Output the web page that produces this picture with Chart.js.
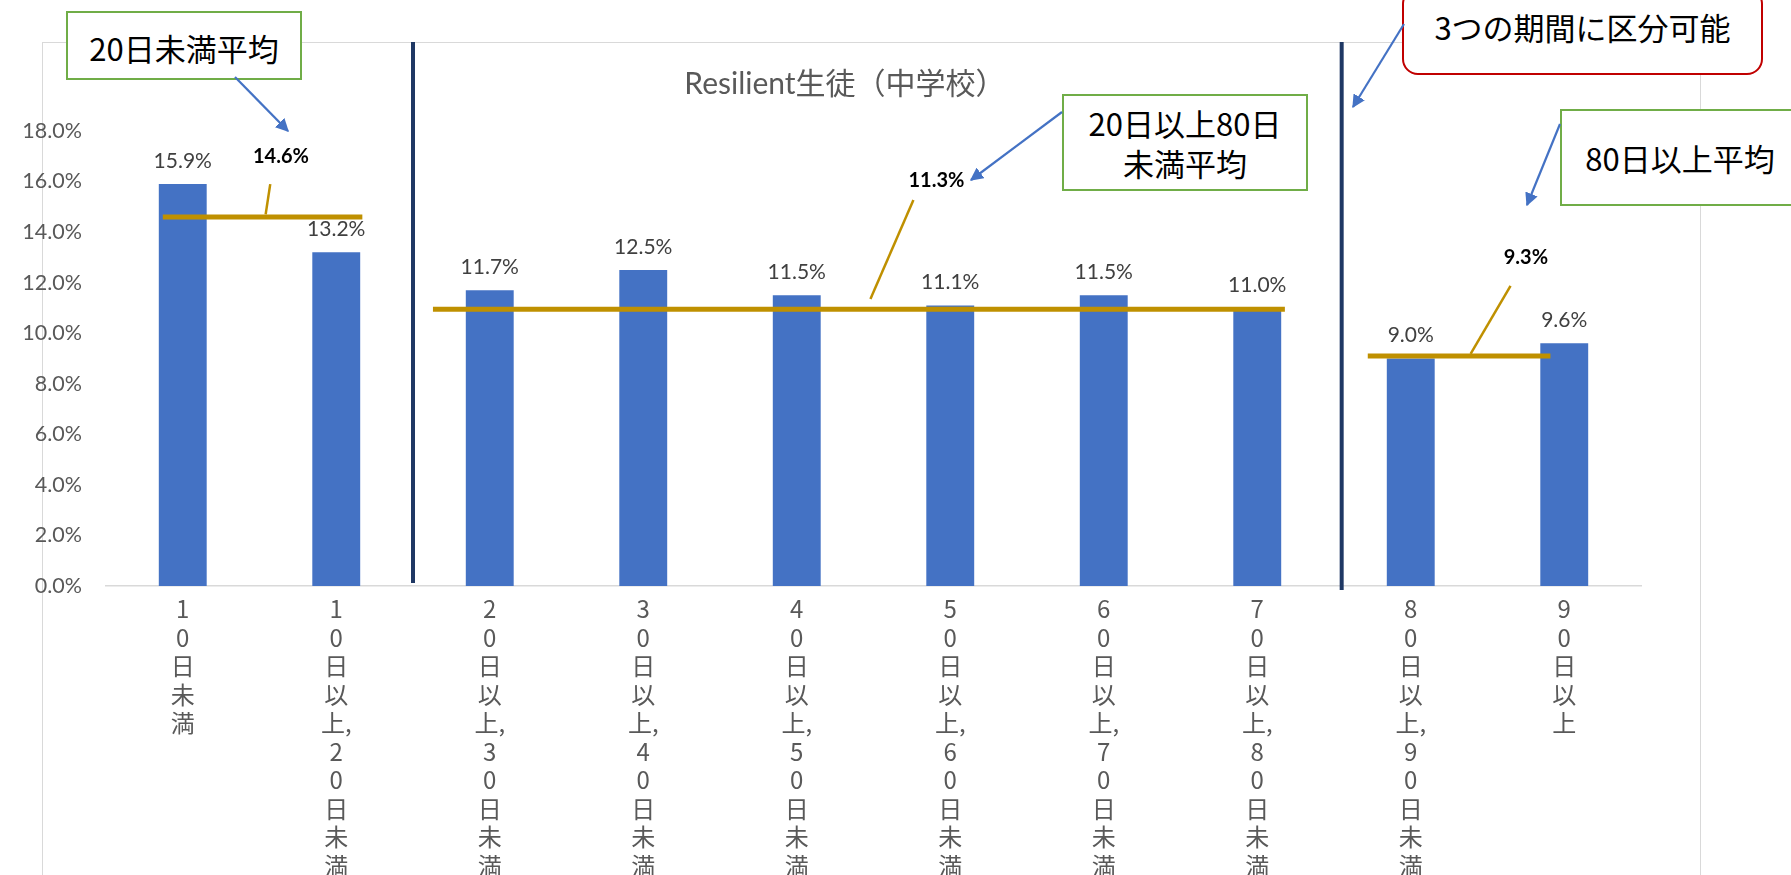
<!DOCTYPE html>
<html lang="ja">
<head>
<meta charset="utf-8">
<title>Resilient生徒（中学校）</title>
<script src="https://cdn.jsdelivr.net/npm/chart.js@4.4.1/dist/chart.umd.min.js"></script>
<style>
  html, body { margin: 0; padding: 0; background: #fff; overflow: hidden; }
  #wrap { position: relative; width: 1791px; height: 875px; }
  #frame { position: absolute; left: 42px; top: 42px; width: 1659px; height: 900px; border: 1px solid #d9d9d9; box-sizing: border-box; }
  canvas { position: absolute; left: 0; top: 0; }
  .title { position: absolute; left: 845px; top: 81px; transform: translate(-50%, -50%); font-size: 30px; font-family: Lato, "Noto Sans CJK JP"; color: #595959; white-space: nowrap; }
  .note { position: absolute; box-sizing: border-box; background: #fff; border: 2.5px solid #70ad47; font-family: "Noto Sans CJK JP"; font-size: 31px; line-height: 40px; color: #000; display: flex; align-items: center; justify-content: center; text-align: center; white-space: nowrap; }
  .red { border-color: #c00000; border-radius: 16px; align-items: flex-start; padding-top: 17px; }
  svg { position: absolute; left: 0; top: 0; }
</style>
</head>
<body>
<div id="wrap">
  <div id="frame"></div>
  <canvas id="myChart" width="1791" height="875"></canvas>
  <div class="title">Resilient生徒（中学校）</div>
  <div class="note" style="left:66px; top:11px; width:236px; height:69px; padding-top:4px;">20日未満平均</div>
  <div class="note" style="left:1062px; top:94px; width:246px; height:97px;">20日以上80日<br>未満平均</div>
  <div class="note red" style="left:1402px; top:-12px; width:361px; height:87px;">3つの期間に区分可能</div>
  <div class="note" style="left:1560px; top:109px; width:240px; height:97px;">80日以上平均</div>
  <svg width="1791" height="875">
    <defs>
      <marker id="head" viewBox="0 0 10 10" refX="9" refY="5" markerWidth="6" markerHeight="6" orient="auto">
        <path d="M0,0 L10,5 L0,10 z" fill="#4472c4"></path>
      </marker>
    </defs>
    <g stroke="#4472c4" stroke-width="2.2" marker-end="url(#head)">
      <line x1="235" y1="77" x2="288" y2="131"></line>
      <line x1="1062" y1="112" x2="971" y2="180"></line>
      <line x1="1404" y1="24" x2="1353" y2="107"></line>
      <line x1="1560" y1="124" x2="1527" y2="205"></line>
    </g>
  </svg>
</div>
<script>
const categories = [
  '10日未満',
  '10日以上,20日未満',
  '20日以上,30日未満',
  '30日以上,40日未満',
  '40日以上,50日未満',
  '50日以上,60日未満',
  '60日以上,70日未満',
  '70日以上,80日未満',
  '80日以上,90日未満',
  '90日以上'
];
const shares = [15.9, 13.2, 11.7, 12.5, 11.5, 11.1, 11.5, 11.0, 9.0, 9.6];
const yTicks = [0, 2, 4, 6, 8, 10, 12, 14, 16, 18];
// gold lines sit at these heights, the printed averages are a bit different
const avgLevels = [14.6, 10.95, 9.1];
const avgValues = [14.6, 11.3, 9.3];

// placement of the average lines and their labels, in category units (x2 axis)
const avgSpan = [[0.37, 1.67], [2.13, 7.68], [8.22, 9.41]];
const leaders = [[1.04, 14.7, 1.07, 15.9], [4.98, 11.35, 5.26, 15.27], [8.89, 9.18, 9.15, 11.87]];
const avgLabelAt = [[1.14, 17.0], [5.41, 16.04], [9.25, 13.0]];
const dividerAt = [2.0, 8.05];

const GOLD = '#bf9000';
const NAVY = '#1f3864';

function stackLabel(s) {
  const out = [];
  for (const ch of s) {
    if (ch === ',') out[out.length - 1] += ch;
    else out.push(ch);
  }
  return out;
}

function seg(data, color, width) {
  return {
    type: 'line', xAxisID: 'x2', data: data,
    borderColor: color, borderWidth: width,
    pointRadius: 0, fill: false, clip: false, order: 0
  };
}

const lineSets = [];
avgLevels.forEach((lv, i) => {
  lineSets.push(seg([{ x: avgSpan[i][0], y: lv }, { x: avgSpan[i][1], y: lv }], GOLD, 5));
  const l = leaders[i];
  lineSets.push(seg([{ x: l[0], y: l[1] }, { x: l[2], y: l[3] }], GOLD, 2.5));
});
dividerAt.forEach((d, i) => {
  lineSets.push(seg([{ x: d, y: i === 0 ? 0.12 : -0.16 }, { x: d, y: 21.52 }], NAVY, 4));
});

const valueLabels = {
  id: 'valueLabels',
  afterDatasetsDraw(chart) {
    const ctx = chart.ctx;
    const xs = chart.scales.x2, ys = chart.scales.y;
    ctx.save();
    ctx.textAlign = 'center';
    ctx.textBaseline = 'middle';
    ctx.font = '21px Lato';
    ctx.fillStyle = '#404040';
    chart.getDatasetMeta(0).data.forEach((bar, i) => {
      ctx.fillText(shares[i].toFixed(1) + '%', bar.x, bar.y - 23);
    });
    ctx.font = 'bold 20px Lato';
    ctx.fillStyle = '#000';
    avgValues.forEach((v, i) => {
      ctx.fillText(v.toFixed(1) + '%', xs.getPixelForValue(avgLabelAt[i][0]), ys.getPixelForValue(avgLabelAt[i][1]));
    });
    ctx.restore();
  }
};

new Chart(document.getElementById('myChart'), {
  type: 'bar',
  data: {
    labels: categories,
    datasets: [
      {
        label: 'Resilient生徒（中学校）',
        data: shares,
        backgroundColor: '#4472c4',
        barPercentage: 0.312,
        categoryPercentage: 1.0,
        grouped: false,
        order: 1
      },
      ...lineSets
    ]
  },
  options: {
    responsive: false,
    animation: false,
    devicePixelRatio: 1,
    layout: { padding: { top: 131, right: 150, bottom: 0, left: 0 } },
    plugins: { legend: { display: false }, tooltip: { enabled: false } },
    scales: {
      x: {
        grid: { display: false, drawTicks: false },
        border: { display: true, color: '#d9d9d9', width: 1.5 },
        ticks: {
          autoSkip: false, maxRotation: 0, minRotation: 0, padding: 9,
          color: '#595959',
          font: { family: '"Noto Sans CJK JP"', size: 24, lineHeight: '28.5px' },
          callback: function (v) { return stackLabel(this.getLabelForValue(v)); }
        },
        afterFit: (s) => { s.height = 289; }
      },
      x2: { type: 'linear', min: 0, max: 10, offset: false, display: false },
      y: {
        min: 0, max: 18,
        grid: { display: false, drawTicks: false },
        border: { display: false },
        afterBuildTicks: (s) => { s.ticks = yTicks.map(v => ({ value: v })); },
        ticks: {
          padding: 24, color: '#595959',
          font: { family: 'Lato', size: 21.5 },
          callback: (v) => v.toFixed(1) + '%'
        },
        afterFit: (s) => { s.width = 106; }
      }
    }
  },
  plugins: [valueLabels]
});
</script>
</body>
</html>
